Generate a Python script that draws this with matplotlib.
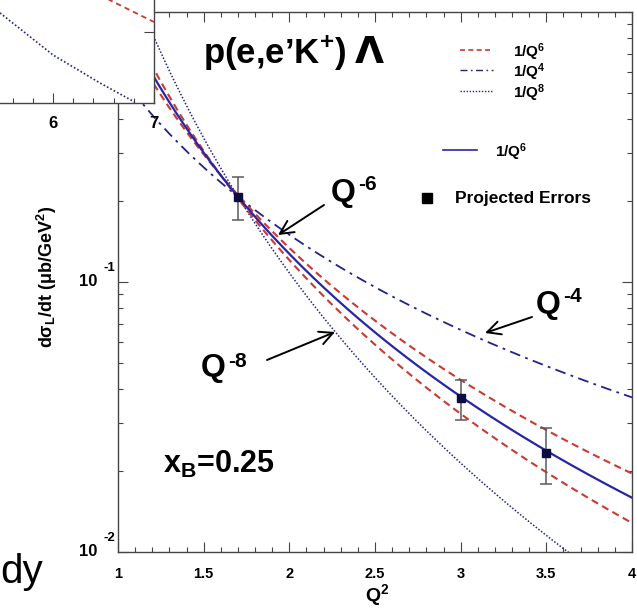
import numpy as np
import matplotlib
matplotlib.use("Agg")
import matplotlib.pyplot as plt
import matplotlib.transforms as mtransforms
from matplotlib.lines import Line2D
from matplotlib.patches import FancyArrowPatch
from matplotlib.ticker import MultipleLocator, FixedLocator, NullFormatter, LogLocator

plt.rcParams["font.family"] = ["Liberation Sans", "DejaVu Sans"]
plt.rcParams["mathtext.fontset"] = "custom"
plt.rcParams["mathtext.rm"] = "Liberation Sans"
plt.rcParams["mathtext.bf"] = "Liberation Sans:bold"
plt.rcParams["mathtext.it"] = "Liberation Sans:italic"

# ---- data -------------------------------------------------------------
# projected measurements of the longitudinal cross section
q2_points = [1.7, 3.0, 3.5]
xs_points = [0.207, 0.0371, 0.0233]
xs_errors = [0.038, 0.0063, 0.0055]

# 1/Q^n scaling curves, normalised to the first projected point
norm_q2 = 1.7
norm_xs = 0.207
power_q4 = 4
power_q6 = 6
power_q8 = 8

# 1/Q^6 uncertainty band: exponents of the two bounding curves about a pivot
band_pivot_q2 = 1.6
band_powers = [5.55, 6.47]

# axis ticks
xtick_vals = [1, 1.5, 2, 2.5, 3, 3.5, 4]
xtick_labels = ["1", "1.5", "2", "2.5", "3", "3.5", "4"]
ytick_vals = [0.01, 0.1]
ytick_exps = ["-2", "-1"]

# neighbouring panel (partially shown)
inset_red_x = [6.45, 6.56, 7.0]
inset_red_y = [0.60, 0.566, 0.445]
inset_dot_x = [5.475, 6.0, 6.465, 6.81]
inset_dot_y = [0.495, 0.264, 0.110, 0.005]
inset_xticks = [6, 7]
inset_xlabels = ["6", "7"]

# ---- figure -----------------------------------------------------------
W, H = 637, 608
fig = plt.figure(figsize=(W / 100, H / 100), dpi=100)


def fpx(x, y):
    """pixel position (from top-left) -> figure fraction"""
    return (x / W, 1 - y / H)


ax_l, ax_r, ax_t, ax_b = 118, 632, 12, 552
ax = fig.add_axes([ax_l / W, 1 - ax_b / H, (ax_r - ax_l) / W, (ax_b - ax_t) / H])
ax.set_xlim(1, 4)
ax.set_yscale("log")
ax.set_ylim(0.01, 1.0)

navy = "#22228a"
blue = "#2626a6"
red = "#c83a32"


def power_law(q2, n, q0, x0):
    return x0 * (q0 / np.asarray(q2)) ** (n / 2.0)


q2 = np.linspace(1.0, 4.0, 400)
ax.plot(q2, power_law(q2, power_q4, norm_q2, norm_xs), color=navy, lw=1.3,
        dashes=(6, 3, 1.5, 3), zorder=3)
ax.plot(q2, power_law(q2, power_q8, norm_q2, norm_xs), color=navy, lw=1.1,
        linestyle=(0, (1, 1.2)), zorder=3)
pivot_xs = power_law(band_pivot_q2, power_q6, norm_q2, norm_xs)
for n in band_powers:
    ax.plot(q2, power_law(q2, n, band_pivot_q2, pivot_xs), color=red, lw=1.5,
            dashes=(3.5, 2.2), zorder=3)
ax.plot(q2, power_law(q2, power_q6, norm_q2, norm_xs), color=blue, lw=1.6, zorder=4)

ax.errorbar(q2_points, xs_points, yerr=xs_errors, fmt="s", color="#0c0c40",
            ms=6, ecolor="#5a5a5a", elinewidth=1.1, capsize=4, capthick=1.1, zorder=5)

# ticks in ROOT style: inward on all four sides
ax.xaxis.set_major_locator(FixedLocator(xtick_vals))
ax.xaxis.set_minor_locator(MultipleLocator(0.1))
ax.set_xticklabels(xtick_labels)
ax.yaxis.set_major_locator(LogLocator(base=10))
ax.yaxis.set_minor_locator(LogLocator(base=10, subs=np.arange(2, 10)))
ax.yaxis.set_major_formatter(NullFormatter())
ax.yaxis.set_minor_formatter(NullFormatter())
ax.tick_params(which="both", direction="in", top=True, right=True, width=0.8, color="#444444")
ax.tick_params(which="major", length=7)
ax.tick_params(which="minor", length=3.6)
ax.tick_params(axis="x", which="major", pad=11, labelsize=10.5)
for lab in ax.get_xticklabels():
    lab.set_fontweight("bold")
for sp in ax.spines.values():
    sp.set_linewidth(1.0)
    sp.set_color("#444444")

# y tick labels written as 10 with a raised exponent
ytrans = mtransforms.blended_transform_factory(ax.transAxes, ax.transData)
ysup = mtransforms.offset_copy(ytrans, fig=fig, x=0, y=14, units="dots")
for v, e in zip(ytick_vals, ytick_exps):
    ax.text((97 - ax_l) / (ax_r - ax_l), v, "10", transform=ytrans, ha="right",
            va="center", fontsize=12, fontweight="bold")
    ax.text((104 - ax_l) / (ax_r - ax_l), v, e, transform=ysup, ha="left",
            va="center", fontsize=9.5, fontweight="bold")

fig.text(*fpx(377, 601), r"$\mathbf{Q^2}$", ha="center", va="baseline", fontsize=14)
fig.text(*fpx(47, 277), r"$\mathbf{dσ_L/dt\ (μb/GeV^2)}$", ha="center", va="center",
         rotation=90, fontsize=13)

# legend
leg_items = [
    (fpx(460, 50), fpx(493, 50), dict(color=red, lw=1.2, dashes=(3, 2))),
    (fpx(460, 70), fpx(493, 70), dict(color=navy, lw=1.0, dashes=(5, 2.5, 1.2, 2.5))),
    (fpx(460, 91), fpx(493, 91), dict(color=navy, lw=1.0, linestyle=(0, (1, 1.2)))),
    (fpx(443, 150), fpx(477, 150), dict(color=blue, lw=1.2)),
]
for (x0, y0), (x1, y1), kw in leg_items:
    fig.add_artist(Line2D([x0, x1], [y0, y1], transform=fig.transFigure, **kw))
for (x, y), txt in [((513, 52), r"$\mathbf{1/Q^6}$"), ((513, 72), r"$\mathbf{1/Q^4}$"),
                    ((513, 93), r"$\mathbf{1/Q^8}$"), ((495, 152), r"$\mathbf{1/Q^6}$")]:
    fig.text(*fpx(x, y), txt, ha="left", va="center", fontsize=11)
fig.add_artist(Line2D([fpx(427, 198)[0]], [fpx(427, 198)[1]], transform=fig.transFigure,
                      marker="s", ms=7.5, color="black", linestyle="none"))
fig.text(*fpx(455, 199), "Projected Errors", ha="left", va="center", fontsize=12.5,
         fontweight="bold")

# reaction label
fig.text(*fpx(203, 63), r"p(e,e’K$^{\mathbf{+}}$)", ha="left", va="baseline",
         fontsize=25, fontweight="bold")
fig.text(*fpx(369, 63), "Λ", ha="center", va="baseline", fontsize=27, fontweight="bold",
         family=["DejaVu Sans"])


def power_label(x, base_y, sup, sup_y):
    fig.text(*fpx(x, base_y), "Q", ha="left", va="baseline", fontsize=23,
             fontweight="bold")
    fig.text(*fpx(x + 27, sup_y), sup, ha="left", va="baseline", fontsize=15,
             fontweight="bold")


power_label(331, 201, "-6", 190)
power_label(536, 313, "-4", 302)
power_label(201, 376, "-8", 367)

fig.text(*fpx(163, 473), r"$\mathbf{x_B}$=0.25", ha="left", va="baseline", fontsize=22,
         fontweight="bold")
arrow_kw = dict(arrowstyle="->", lw=1.4, color="black", mutation_scale=24,
                shrinkA=0, shrinkB=0)
for tip, tail in [((278, 235), (324, 205)), ((485, 333), (532, 317)), ((335, 332), (267, 360))]:
    fig.add_artist(FancyArrowPatch(fpx(*tail), fpx(*tip), transform=fig.transFigure,
                                   **arrow_kw))

fig.text(*fpx(43, 583), "dy", ha="right", va="baseline", fontsize=29)

# neighbouring panel at top-left
in_r, in_b = 154, 103
iax = fig.add_axes([(in_r - 404) / W, 1 - in_b / H, 404 / W, 182 / H])
iax.set_xlim(3, 7)
iax.set_ylim(0, 1)
iax.plot(inset_red_x, inset_red_y, color=red, lw=1.3, dashes=(3, 2.2))
iax.plot(inset_dot_x, inset_dot_y, color=navy, lw=1.2, linestyle=(0, (1, 1.3)))
iax.xaxis.set_major_locator(FixedLocator(inset_xticks))
iax.set_xticklabels(inset_xlabels)
iax.xaxis.set_minor_locator(MultipleLocator(0.2))
iax.yaxis.set_major_locator(FixedLocator([0.39]))
iax.tick_params(which="both", direction="in", left=False, right=True, labelleft=False,
                width=0.8, color="#444444")
iax.tick_params(which="major", length=7)
iax.tick_params(which="minor", length=3.6)
iax.tick_params(axis="x", pad=9, labelsize=12)
for lab in iax.get_xticklabels():
    lab.set_fontweight("bold")
for sp in iax.spines.values():
    sp.set_linewidth(1.0)
    sp.set_color("#444444")

fig.savefig("out.png", dpi=100)
